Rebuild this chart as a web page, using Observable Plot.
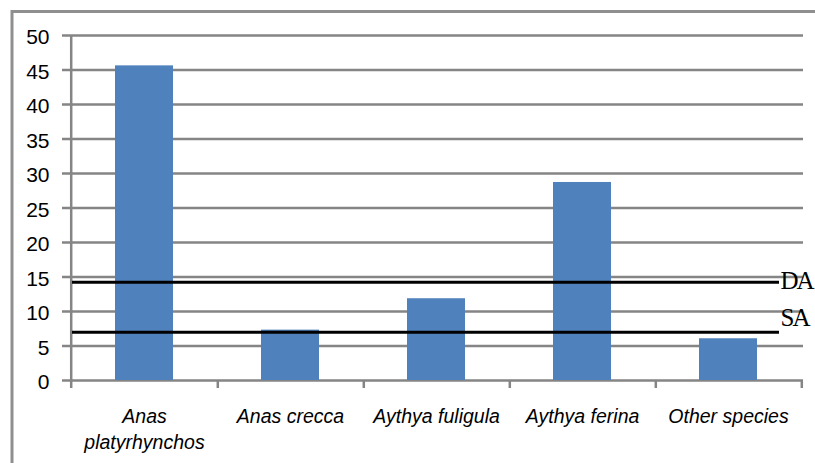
<!DOCTYPE html>
<html>
<head>
<meta charset="utf-8">
<script src="https://cdn.jsdelivr.net/npm/d3@7"></script>
<script src="https://cdn.jsdelivr.net/npm/@observablehq/plot@0.6"></script>
<style>
html, body { margin: 0; padding: 0; background: #fff; overflow: hidden; }
svg { display: block; }
</style>
</head>
<body>
<div id="chart"></div>
<script>
// ---- data ----
const species = ["Anas platyrhynchos", "Anas crecca", "Aythya fuligula", "Aythya ferina", "Other species"];
const speciesLabels = ["Anas\nplatyrhynchos", "Anas crecca", "Aythya fuligula", "Aythya ferina", "Other species"];
const counts = [45.6, 7.3, 11.85, 28.7, 6.05];
const yTicks = [0, 5, 10, 15, 20, 25, 30, 35, 40, 45, 50];
const refValues = [14.25, 7.0];
const refLabels = ["DA", "SA"];

const data = species.map((s, i) => ({species: s, count: counts[i], label: speciesLabels[i]}));
const refs = refValues.map((v, i) => ({value: v, label: refLabels[i]}));

// ---- layout ----
const W = 815, H = 463, mL = 70, mR = 12, mT = 35, mB = 83;
const half = (W - mL - mR) / species.length / 2;
const grey = "#858585";
const sans = "'Liberation Sans', Arial, sans-serif";
const serif = "'Liberation Serif', 'Times New Roman', serif";

const chart = Plot.plot({
  width: W,
  height: H,
  marginLeft: mL,
  marginRight: mR,
  marginTop: mT,
  marginBottom: mB,
  style: {background: "#fff", fontFamily: sans, overflow: "hidden"},
  x: {domain: species, paddingInner: 0.6, paddingOuter: 0.3, axis: null},
  y: {domain: [0, 50], axis: null},
  marks: [
    // outer chart-area border
    Plot.frame({stroke: "#8f8f8f", strokeWidth: 3, insetLeft: -(mL - 11.5), insetTop: -(mT - 11), insetRight: -40, insetBottom: -150}),
    // horizontal gridlines with left tick marks
    Plot.ruleY(yTicks, {y: d => d, stroke: grey, strokeWidth: 2.5, insetLeft: -8}),
    // y tick labels
    Plot.text(yTicks, {y: d => d, text: d => String(d), frameAnchor: "left", textAnchor: "end", dx: -21, dy: 2, fontSize: 21, fill: "#000"}),
    // y axis line
    Plot.ruleX([species[0]], {x: d => d, dx: -half, y1: 50, y2: 0, stroke: grey, strokeWidth: 2.5, insetBottom: -8}),
    // x category boundary ticks
    Plot.ruleX(species, {x: d => d, dx: half, y1: 0, y2: 0, stroke: grey, strokeWidth: 2.5, insetBottom: -8}),
    // bars
    Plot.barY(data, {x: "species", y: "count", fill: "#4F81BD"}),
    // x labels
    Plot.text(data, {x: "species", text: "label", frameAnchor: "bottom", lineAnchor: "top", dy: 24, fontSize: 19.5, fontStyle: "italic", lineHeight: 1.33, fill: "#000"}),
    // reference lines
    Plot.ruleY(refs, {y: "value", stroke: "#000", strokeWidth: 3, insetLeft: 2, insetRight: 24}),
    Plot.text([refs[0]], {y: "value", text: "label", frameAnchor: "right", textAnchor: "start", lineAnchor: "bottom", dx: -23, dy: 6.6, fontSize: 25, fontFamily: serif, fill: "#000"}),
    Plot.text([refs[1]], {y: "value", text: "label", frameAnchor: "right", textAnchor: "start", lineAnchor: "bottom", dx: -23, dy: -6.7, fontSize: 25, fontFamily: serif, fill: "#000"})
  ]
});

d3.select(chart).selectAll("text").filter(function() {
  return this.textContent === "DA" || this.textContent === "SA";
}).attr("letter-spacing", "-2");

document.getElementById("chart").appendChild(chart);
</script>
</body>
</html>
